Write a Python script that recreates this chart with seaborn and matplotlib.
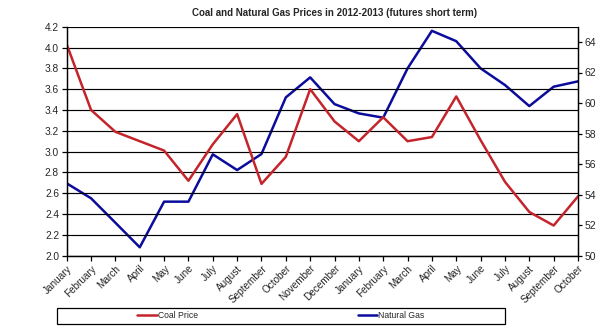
import matplotlib
matplotlib.use("Agg")
import matplotlib.pyplot as plt
from matplotlib.patches import Rectangle
import seaborn as sns
import pandas as pd

# Monthly prices, January 2012 through October 2013
months = ["January", "February", "March", "April", "May", "June", "July",
          "August", "September", "October", "November", "December",
          "January", "February", "March", "April", "May", "June", "July",
          "August", "September", "October"]
coal_price = [4.03, 3.40, 3.19, 3.10, 3.01, 2.72, 3.07, 3.36, 2.69, 2.95, 3.60,
              3.29, 3.10, 3.33, 3.10, 3.14, 3.53, 3.11, 2.71, 2.42, 2.29, 2.57]
natural_gas = [54.74, 53.76, 52.16, 50.55, 53.54, 53.54, 56.64, 55.61, 56.66,
               60.37, 61.68, 59.93, 59.32, 59.04, 62.27, 64.73, 64.05, 62.27,
               61.18, 59.80, 61.07, 61.42]
left_ticks = [2.0, 2.2, 2.4, 2.6, 2.8, 3.0, 3.2, 3.4, 3.6, 3.8, 4.0, 4.2]
right_ticks = [50, 52, 54, 56, 58, 60, 62, 64]

df = pd.DataFrame({"pos": range(len(months)), "month": months,
                   "Coal Price": coal_price, "Natural Gas": natural_gas})

sns.set_style("white")
plt.rcParams["font.family"] = ["Liberation Sans", "DejaVu Sans"]

RED = "#C4242B"
BLUE = "#0C0C9C"

fig = plt.figure(figsize=(6.04, 3.28), dpi=100)
ax = fig.add_axes([66.7 / 604, 1 - 255.7 / 328, (578 - 66.7) / 604, (255.7 - 26.7) / 328])
ax2 = ax.twinx()

sns.lineplot(data=df, x="pos", y="Coal Price", ax=ax, color=RED, lw=1.8,
             label="Coal Price", legend=False)
sns.lineplot(data=df, x="pos", y="Natural Gas", ax=ax2, color=BLUE, lw=1.8,
             label="Natural Gas", legend=False)

# Left axis: coal
ax.set_ylim(2.0, 4.2)
ax.set_yticks(left_ticks)
ax.set_yticklabels([f"{v:.1f}" for v in left_ticks], fontsize=7.3)
ax.yaxis.grid(True, color="black", lw=0.85)
ax.set_axisbelow(True)
ax.set_xlim(0, len(months) - 1)
ax.set_xticks(range(len(months)))
ax.set_xticklabels(months, rotation=45, ha="right", rotation_mode="anchor",
                   fontsize=7.2)
ax.set_xlabel("")
ax.set_ylabel("")
ax.tick_params(axis="both", which="major", length=3.5, width=0.9, color="black",
               direction="out", left=True, bottom=True, pad=2)

# Right axis: natural gas
ax2.set_ylim(50, 65)
ax2.set_yticks(right_ticks)
ax2.set_yticklabels([str(v) for v in right_ticks], fontsize=7.5)
ax2.set_ylabel("")
ax2.tick_params(axis="y", length=3, width=0.9, color="black", direction="out",
                right=True, pad=2)
ax2.grid(False)

for a in (ax, ax2):
    a.spines["top"].set_visible(False)
    for s in ("left", "right", "bottom"):
        a.spines[s].set_color("black")
        a.spines[s].set_linewidth(0.9)
ax2.set_zorder(ax.get_zorder() - 1)
ax.patch.set_visible(False)

fig.text(335 / 604, 1 - 13 / 328, "Coal and Natural Gas Prices in 2012-2013 (futures short term)",
         ha="center", va="center", fontsize=7, fontweight="bold")

# Legend strip under the chart
handles = ax.get_lines()[:1] + ax2.get_lines()[:1]
fig.legend(handles, ["Coal Price", "Natural Gas"], loc="center",
           bbox_to_anchor=(281 / 604, 1 - 316 / 328), ncol=2, frameon=False,
           fontsize=6.2, handlelength=2.3, handletextpad=0.1, columnspacing=18.5)
fig.patches.append(Rectangle((57 / 604, 1 - 324.3 / 328), (505 - 57) / 604, 16.6 / 328,
                             transform=fig.transFigure, fill=False,
                             edgecolor="black", lw=0.9))

fig.savefig("out.png", dpi=100, facecolor="white")
